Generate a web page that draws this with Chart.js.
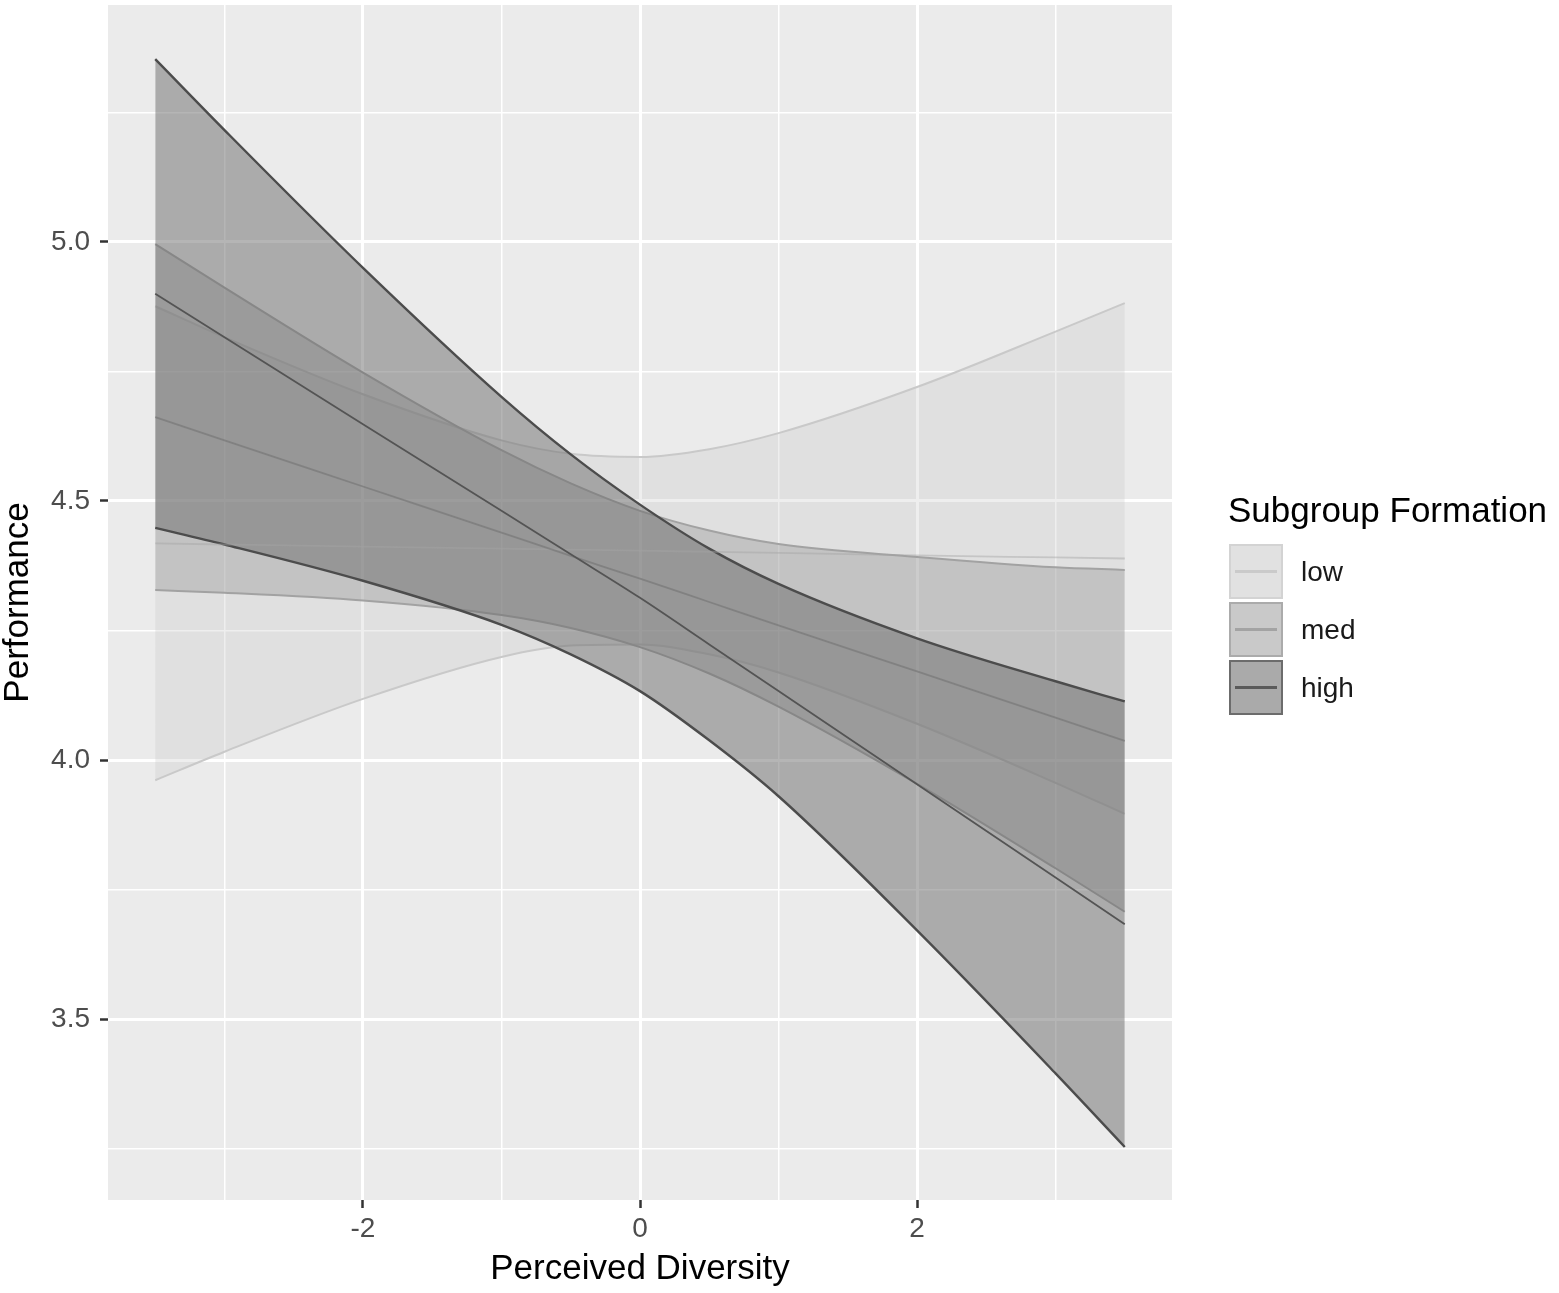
<!DOCTYPE html>
<html>
<head>
<meta charset="utf-8">
<script src="https://cdn.jsdelivr.net/npm/chart.js@4.4.0/dist/chart.umd.min.js"></script>
<style>
html, body { margin: 0; padding: 0; background: #fff; }
#wrap { position: relative; width: 1559px; height: 1293px; font-family: "Liberation Sans", Arial, sans-serif; }
#chart { position: absolute; left: 0; top: 0; }
.ltitle { position: absolute; left: 1228px; top: 490px; font-size: 35px; line-height: 40px; color: #000; white-space: nowrap; }
.key { position: absolute; left: 1229px; width: 50px; height: 51px; border: 2px solid; }
.kline { position: absolute; left: 4px; right: 4px; top: 50%; height: 3px; margin-top: -1.5px; }
.lab { position: absolute; left: 1301px; font-size: 28px; line-height: 32px; color: #1a1a1a; }
</style>
</head>
<body>
<div id="wrap">
  <canvas id="chart" width="1559" height="1293"></canvas>
  <div id="legend"></div>
</div>
<script>
const xs = [-3.5, -3, -2, -1, -0.5, 0, 0.5, 1, 2, 3, 3.5];

const groups = ['low', 'med', 'high'];

const lowUpper  = [4.876, 4.816, 4.706, 4.617, 4.591, 4.585, 4.600, 4.631, 4.720, 4.827, 4.882];
const lowFit    = [4.418, 4.416, 4.412, 4.408, 4.406, 4.404, 4.402, 4.400, 4.395, 4.391, 4.389];
const lowLower  = [3.961, 4.016, 4.118, 4.199, 4.221, 4.223, 4.204, 4.169, 4.070, 3.956, 3.896];

const medUpper  = [4.996, 4.912, 4.748, 4.598, 4.534, 4.481, 4.443, 4.417, 4.392, 4.372, 4.367];
const medFit    = [4.662, 4.617, 4.528, 4.439, 4.394, 4.350, 4.305, 4.260, 4.171, 4.082, 4.037];
const medLower  = [4.328, 4.323, 4.308, 4.280, 4.255, 4.218, 4.167, 4.103, 3.954, 3.791, 3.707];

const highUpper = [5.353, 5.216, 4.950, 4.701, 4.590, 4.493, 4.408, 4.340, 4.235, 4.152, 4.113];
const highFit   = [4.900, 4.816, 4.648, 4.481, 4.397, 4.313, 4.223, 4.133, 3.953, 3.773, 3.683];
const highLower = [4.448, 4.416, 4.346, 4.261, 4.204, 4.133, 4.038, 3.930, 3.671, 3.395, 3.253];

const xTicks = [-3, -2, -1, 0, 1, 2, 3];
const xLabels = [-2, 0, 2];
const yTicks = [3.25, 3.5, 3.75, 4, 4.25, 4.5, 4.75, 5, 5.25];
const yLabels = [3.5, 4, 4.5, 5];

const fills = ['rgba(200,200,200,0.3)', 'rgba(141,141,141,0.35)', 'rgba(107,107,107,0.5)'];
const edges = ['#c9c9c9', '#a2a2a2', '#4c4c4c'];
const fitCols = ['rgba(165,165,165,0.45)', 'rgba(120,120,120,0.7)', '#545454'];
const keyLine = ['#cacaca', '#a3a3a3', '#5a5a5a'];
const keyFill = ['#e1e1e1', '#c9c9c9', '#aaaaaa'];
const keyBorder = ['#d3d3d3', '#ababab', '#6c6c6c'];

const FONT = '"Liberation Sans", Arial, sans-serif';

function pts(ys) {
    return xs.map((x, i) => ({ x: x, y: ys[i] }));
}

const bands = [[lowUpper, lowLower], [medUpper, medLower], [highUpper, highLower]];
const fits = [lowFit, medFit, highFit];

let datasets = [];
bands.forEach((b, g) => {
    datasets.push({
        label: groups[g] + ' upper', data: pts(b[0]),
        borderColor: edges[g], borderWidth: g == 2 ? 2.4 : 2,
        pointRadius: 0, fill: false, cubicInterpolationMode: 'monotone',
        order: 10 - g
    });
    datasets.push({
        label: groups[g] + ' lower', data: pts(b[1]),
        borderColor: edges[g], borderWidth: g == 2 ? 2.4 : 2,
        backgroundColor: fills[g],
        pointRadius: 0, fill: '-1', cubicInterpolationMode: 'monotone',
        order: 10 - g
    });
});
fits.forEach((f, g) => {
    datasets.push({
        label: groups[g], data: pts(f),
        borderColor: fitCols[g], borderWidth: 1.8,
        pointRadius: 0, fill: false, cubicInterpolationMode: 'monotone',
        order: 3 - g
    });
});

const panelBg = {
    id: 'panelBg',
    beforeDraw(chart) {
        const { ctx, chartArea: a } = chart;
        ctx.save();
        ctx.fillStyle = '#ebebeb';
        ctx.fillRect(a.left, a.top, a.right - a.left, a.bottom - a.top);
        ctx.restore();
    }
};

new Chart(document.getElementById('chart').getContext('2d'), {
    type: 'line',
    data: { datasets: datasets },
    plugins: [panelBg],
    options: {
        responsive: false,
        devicePixelRatio: 1,
        animation: false,
        events: [],
        layout: { padding: { top: 5, right: 387, left: 0, bottom: 0 } },
        plugins: { legend: { display: false }, tooltip: { enabled: false } },
        scales: {
            x: {
                type: 'linear', min: -3.841, max: 3.841,
                afterBuildTicks: s => { s.ticks = xTicks.map(v => ({ value: v })); },
                afterFit: s => { s.height = 93; s.paddingLeft = 0; s.paddingRight = 0; },
                border: { display: false },
                grid: {
                    color: '#ffffff',
                    lineWidth: c => xLabels.includes(c.tick.value) ? 3 : 1.5,
                    tickLength: 8, tickWidth: 2.5,
                    tickColor: c => xLabels.includes(c.tick.value) ? '#333333' : 'rgba(0,0,0,0)'
                },
                ticks: {
                    autoSkip: false, maxRotation: 0, padding: 4,
                    color: '#4d4d4d', font: { family: FONT, size: 28 },
                    callback: v => xLabels.includes(v) ? String(v) : ''
                },
                title: {
                    display: true, text: 'Perceived Diversity', color: '#000',
                    font: { family: FONT, size: 35, lineHeight: 1 },
                    padding: { top: 0, bottom: 6 }
                }
            },
            y: {
                type: 'linear', min: 3.1506, max: 5.4575,
                afterBuildTicks: s => { s.ticks = yTicks.map(v => ({ value: v })); },
                afterFit: s => { s.width = 108; s.paddingTop = 0; s.paddingBottom = 0; },
                border: { display: false },
                grid: {
                    color: '#ffffff',
                    lineWidth: c => yLabels.includes(c.tick.value) ? 3 : 1.5,
                    tickLength: 8, tickWidth: 2.5,
                    tickColor: c => yLabels.includes(c.tick.value) ? '#333333' : 'rgba(0,0,0,0)'
                },
                ticks: {
                    autoSkip: false, padding: 10,
                    color: '#4d4d4d', font: { family: FONT, size: 28 },
                    callback: v => yLabels.includes(v) ? v.toFixed(1) : ''
                },
                title: {
                    display: true, text: 'Performance', color: '#000',
                    font: { family: FONT, size: 35, lineHeight: 1 },
                    padding: { top: 1, bottom: 0 }
                }
            }
        }
    }
});

// legend drawn as html
const legend = document.getElementById('legend');
let html = '<div class="ltitle">Subgroup Formation</div>';
const rowTops = [544, 602, 660];
groups.forEach((g, i) => {
    html += '<div class="key" style="top:' + rowTops[i] + 'px;background:' + keyFill[i] + ';border-color:' + keyBorder[i] + '">' +
        '<div class="kline" style="background:' + keyLine[i] + '"></div></div>';
    html += '<div class="lab" style="top:' + (rowTops[i] + 11.5) + 'px">' + g + '</div>';
});
legend.innerHTML = html;
</script>
</body>
</html>
